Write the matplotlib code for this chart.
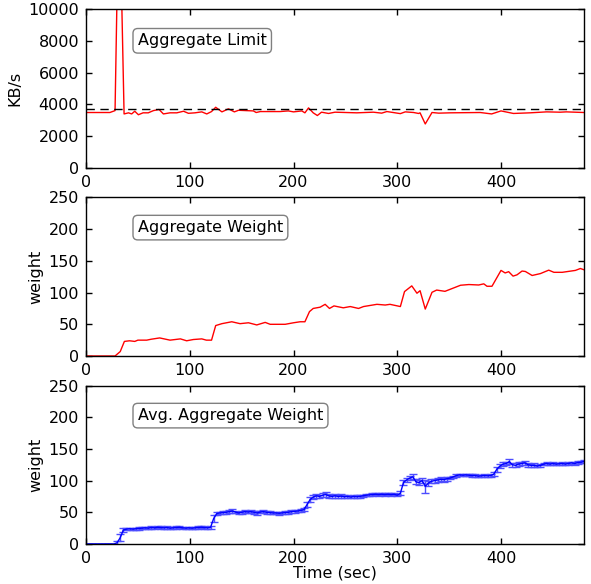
import matplotlib
matplotlib.use("Agg")
import matplotlib.pyplot as plt
import numpy as np

# ---------------- data ----------------
limit_t = [0, 23, 28, 31, 33, 36.7, 41, 44, 47, 50.5, 55, 60, 65, 70.4, 74.6, 81, 87.5, 94, 98.7,
           105, 111.6, 116.4, 121, 125, 131, 137.3, 143, 147, 161.4, 164, 168, 187, 195, 200,
           208, 211, 214.5, 219, 223, 227, 233.8, 240, 261, 277, 285, 290, 303, 307.7, 315.8,
           320.6, 322, 327, 333.5, 340, 351, 380, 391, 400, 412, 428, 444, 457, 463, 480]
limit_v = [3490, 3490, 3610, 15000, 15000, 3400, 3470, 3400, 3570, 3350, 3470, 3470, 3610, 3680,
           3400, 3470, 3470, 3570, 3440, 3470, 3530, 3400, 3550, 3820, 3530, 3720, 3530, 3630,
           3590, 3490, 3550, 3550, 3590, 3530, 3590, 3470, 3780, 3470, 3300, 3510, 3430, 3510,
           3470, 3510, 3450, 3550, 3420, 3530, 3490, 3430, 3470, 2770, 3490, 3450, 3470, 3490,
           3400, 3590, 3430, 3470, 3530, 3510, 3530, 3490]
limit_ref = 3740

weight_t = [0, 28, 33, 37, 42, 47, 50, 58.5, 63, 71, 81, 91, 97, 103.5, 111.6, 116, 121, 125, 131,
            140.5, 148.5, 156.6, 164.6, 172.7, 177.5, 192, 200, 206.4, 211, 215.4, 219, 225.7,
            230.5, 234.7, 239, 248, 254.7, 262.7, 267.5, 280.4, 288.4, 293, 303, 307, 314, 319,
            322, 327, 333.5, 338, 346, 361, 369, 378.5, 383.4, 386.5, 391.3, 400, 404, 407.4,
            411.6, 415.4, 420.3, 423.5, 430, 438, 446, 451, 459, 471.7, 476.5, 480]
weight_v = [0, 0, 7, 23, 24, 23, 25, 25, 26.5, 28.5, 25, 27, 24, 26, 27, 25, 25, 48, 51, 54, 51,
            52.4, 49, 53, 50, 50, 52.4, 54, 54, 70, 75, 77, 81.5, 75, 79, 76, 78, 75, 78, 81.5,
            80.4, 81.5, 78, 101.6, 110.6, 99, 103, 74, 100.5, 104, 102, 111.6, 112.7, 112, 113.8,
            110, 110, 135, 131, 133, 126, 128, 134, 133.3, 127, 130, 135.4, 132, 132, 135, 138, 136]

avg_t = list(range(0, 481, 3))
avg_v = [0, 0, 0, 0, 0, 0, 0, 0, 0, 0,
         2, 10, 22, 23.5, 24, 23.5, 24, 24.5, 25, 25.5,
         25, 26, 25.5, 26.5, 26, 25.5, 26, 25, 25.5, 26,
         26.5, 25.5, 25, 25.5, 25, 25.5, 26, 26.5, 26, 25.5,
         26, 40, 48, 49, 49.5, 50, 51, 52, 50.5, 49,
         50, 51, 50.5, 51, 50, 49, 50.5, 51, 50, 49.5,
         49, 49, 48.5, 49, 49.5, 50, 51, 51.5, 52, 53,
         54, 62, 70, 74, 76, 75, 77, 78, 76, 75,
         76, 75, 75.5, 74.5, 75, 74, 75, 74.5, 75, 76,
         77, 77.5, 78, 78.5, 78, 78.5, 78, 78.5, 78, 78.5,
         77, 80, 97, 101, 104, 106, 98, 97, 100, 91,
         96, 99, 100, 101, 102, 101.5, 103, 104, 106, 108,
         109, 108.5, 109, 108.5, 108, 108, 107, 107.5, 108, 107.5,
         108, 110, 118, 123, 126, 127, 130, 125, 124, 126,
         127, 128, 125, 124, 124, 123, 124, 126, 127, 126,
         127, 126, 126.5, 127, 126, 127, 128, 127, 128.5, 129,
         130]
avg_err = [0, 0, 0, 0, 0, 0, 0, 0, 0, 0,
           3, 5, 3, 2, 2, 2, 2, 2, 2, 2,
           2, 2, 2, 2, 2, 2, 2, 2, 2, 2,
           2, 2, 2, 2, 2, 2, 2, 2, 2, 2,
           3, 5, 3, 2, 2, 2, 2, 3, 2, 2,
           2, 2, 2, 2, 2, 3, 2, 2, 2, 2,
           2, 2, 2, 2, 2, 2, 2, 2, 2, 2,
           2, 4, 4, 3, 3, 3, 3, 4, 3, 3,
           3, 3, 3, 2, 2, 2, 2, 2, 2, 2,
           2, 2, 2, 2, 2, 2, 2, 2, 2, 2,
           2, 3, 4, 3, 3, 4, 4, 4, 4, 10,
           4, 3, 3, 3, 3, 3, 3, 2, 2, 2,
           2, 2, 2, 2, 2, 2, 2, 2, 2, 2,
           2, 3, 4, 3, 3, 3, 4, 3, 3, 3,
           3, 3, 3, 2, 3, 2, 2, 2, 2, 2,
           2, 2, 2, 2, 2, 2, 2, 2, 2, 2,
           2]

x_ticks = [0, 100, 200, 300, 400]
limit_yticks = [0, 2000, 4000, 6000, 8000, 10000]
weight_yticks = [0, 50, 100, 150, 200, 250]

# ---------------- style ----------------
plt.rcParams['font.family'] = ['DejaVu Sans']
plt.rcParams['font.size'] = 11.5

fig = plt.figure(figsize=(5.91, 5.84), dpi=100, facecolor='white')
L, W = 86 / 591, (584 - 86) / 591
def ax_at(top_px, bot_px):
    return fig.add_axes([L, 1 - bot_px / 584, W, (bot_px - top_px) / 584])

ax1 = ax_at(9, 168)
ax2 = ax_at(197.5, 356)
ax3 = ax_at(385.5, 544)

def style(ax, yticks, ylim):
    ax.set_xlim(0, 480)
    ax.set_ylim(*ylim)
    ax.set_xticks(x_ticks)
    ax.set_yticks(yticks)
    ax.tick_params(direction='in', top=True, right=True, length=4, width=1,
                   labelsize=11.5, pad=5)
    for s in ax.spines.values():
        s.set_linewidth(1)

bbox = dict(boxstyle='round,pad=0.3', fc='white', ec='gray', lw=1)

ax1.plot(limit_t, limit_v, color='red', lw=1)
ax1.axhline(limit_ref, color='black', ls='--', lw=1, dashes=(6, 4))
style(ax1, limit_yticks, (0, 10000))
ax1.set_ylabel('KB/s', fontsize=11.5)
ax1.text(0.104, 0.80, 'Aggregate Limit', transform=ax1.transAxes, ha='left', va='center',
         fontsize=11.5, bbox=bbox)

ax2.plot(weight_t, weight_v, color='red', lw=1)
style(ax2, weight_yticks, (0, 250))
ax2.set_ylabel('weight', fontsize=11.5)
ax2.text(0.104, 0.81, 'Aggregate Weight', transform=ax2.transAxes, ha='left', va='center',
         fontsize=11.5, bbox=bbox)

ax3.errorbar(avg_t, avg_v, yerr=avg_err, color='blue', lw=1, capsize=3, elinewidth=1,
             ecolor=(0.3, 0.3, 1.0))
style(ax3, weight_yticks, (0, 250))
ax3.set_ylabel('weight', fontsize=11.5)
ax3.set_xlabel('Time (sec)', fontsize=11.5, labelpad=0)
ax3.text(0.104, 0.81, 'Avg. Aggregate Weight', transform=ax3.transAxes, ha='left', va='center',
         fontsize=11.5, bbox=bbox)

fig.savefig('out.png', dpi=100, facecolor='white')
